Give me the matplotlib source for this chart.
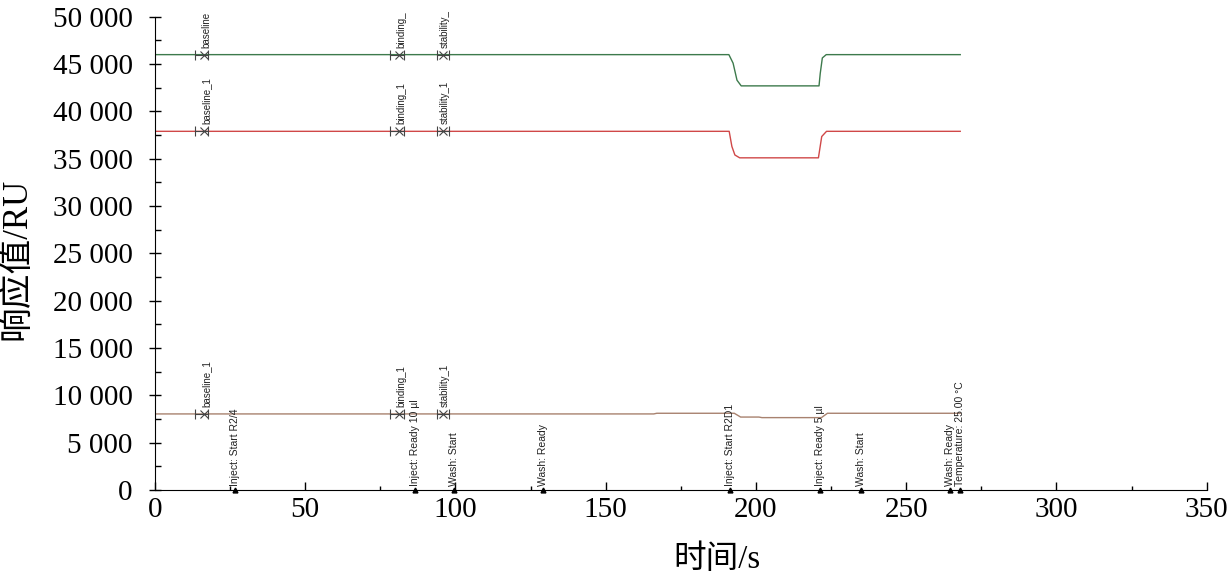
import matplotlib.pyplot as plt
from matplotlib.ticker import MultipleLocator

# sensorgram curves (time in s, response in RU)
green_t = [0, 191.0, 192.4, 193.7, 195.1, 221.0, 221.4, 222.1, 223.4, 268]
green_v = [46000, 46000, 45100, 43300, 42700, 42700, 44000, 45650, 46000, 46000]
red_t = [0, 191.1, 192.0, 193.0, 194.6, 220.8, 221.9, 223.5, 268]
red_v = [37900, 37900, 36300, 35400, 35100, 35100, 37350, 37900, 37900]
brown_t = [0, 166, 167, 192.8, 194.9, 201, 202, 221.8, 223.8, 268]
brown_v = [8050, 8050, 8120, 8120, 7720, 7720, 7660, 7660, 8120, 8120]

# report point markers (x of cross, left cap, right cap)
rp_x = [16.4, 81.2, 95.8]
rp_left = [13.3, 78.2, 93.8]
rp_right = [17.6, 82.8, 97.8]
green_rp = ["baseline", "binding_", "stability_"]
red_rp = ["baseline_1", "binding_1", "stability_1"]
brown_rp = ["baseline_1", "binding_1", "stability_1"]

# event log at the bottom
event_t = [26.6, 86.5, 99.5, 129.0, 191.5, 221.4, 234.9, 264.7, 267.8]
event_txt = ["Inject: Start R2/4", "Inject: Ready 10 µl", "Wash: Start", "Wash: Ready",
             "Inject: Start R2D1", "Inject: Ready 5 µl", "Wash: Start", "Wash: Ready",
             "Temperature: 25.00 °C"]

yticks = [0, 5000, 10000, 15000, 20000, 25000, 30000, 35000, 40000, 45000, 50000]
ytick_labels = ["0", "5 000", "10 000", "15 000", "20 000", "25 000", "30 000",
                "35 000", "40 000", "45 000", "50 000"]
xticks = [0, 50, 100, 150, 200, 250, 300, 350]

fig = plt.figure(figsize=(12.3, 5.78), dpi=100)
ax = fig.add_axes([0.126, 0.152, 0.855, 0.819])

series = [(green_t, green_v, "#3d7a4c", green_rp),
          (red_t, red_v, "#d04848", red_rp),
          (brown_t, brown_v, "#a8826f", brown_rp)]

for t, v, col, names in series:
    ax.plot(t, v, color=col, lw=1.0)
    lvl = v[0]
    for xc, xl, xr, name in zip(rp_x, rp_left, rp_right, names):
        ax.plot([xl, xr], [lvl, lvl], color="#444444", lw=0.8)
        ax.plot([xl, xr], [lvl, lvl], ls="none", marker="|", ms=7, mew=0.8, color="#444444")
        ax.plot([xc], [lvl], ls="none", marker="x", ms=6, mew=0.8, color="#444444")
        ax.annotate(name, (xc, lvl), xytext=(1.5, 5), textcoords="offset points",
                    rotation=90, ha="center", va="bottom", fontsize=7,
                    family="Liberation Sans", color="#222222")

for t, txt in zip(event_t, event_txt):
    ax.plot([t], [0], ls="none", marker="^", ms=3.5, color="black", clip_on=False)
    ax.annotate(txt, (t, 0), xytext=(0, 3), textcoords="offset points",
                rotation=90, ha="center", va="bottom", fontsize=7.5,
                family="Liberation Sans", color="#222222")

ax.set_xlim(0, 350)
ax.set_ylim(0, 50000)
ax.set_xticks(xticks)
ax.set_yticks(yticks)
ax.set_yticklabels(ytick_labels)
ax.xaxis.set_minor_locator(MultipleLocator(25))
ax.yaxis.set_minor_locator(MultipleLocator(2500))
ax.spines["top"].set_visible(False)
ax.spines["right"].set_visible(False)
ax.tick_params(axis="y", which="major", direction="inout", length=8, width=1, pad=12)
ax.tick_params(axis="y", which="minor", direction="in", length=4, width=1)
ax.tick_params(axis="x", which="major", direction="in", length=6, width=1, pad=5)
ax.tick_params(axis="x", which="minor", direction="in", length=3, width=1)
for lab in ax.get_xticklabels() + ax.get_yticklabels():
    lab.set_family("Liberation Serif")
    lab.set_fontsize(21)

label_font = ["Liberation Serif", "Noto Sans CJK SC"]
fig.text(17 / 1230, 1 - 259 / 578, "响应值/RU", family=label_font, fontsize=25,
         rotation=90, ha="center", va="center")
fig.text(717 / 1230, 1 - 560 / 578, "时间/s", family=label_font, fontsize=23.5,
         ha="center", va="center")

fig.savefig("out.png", dpi=100)
